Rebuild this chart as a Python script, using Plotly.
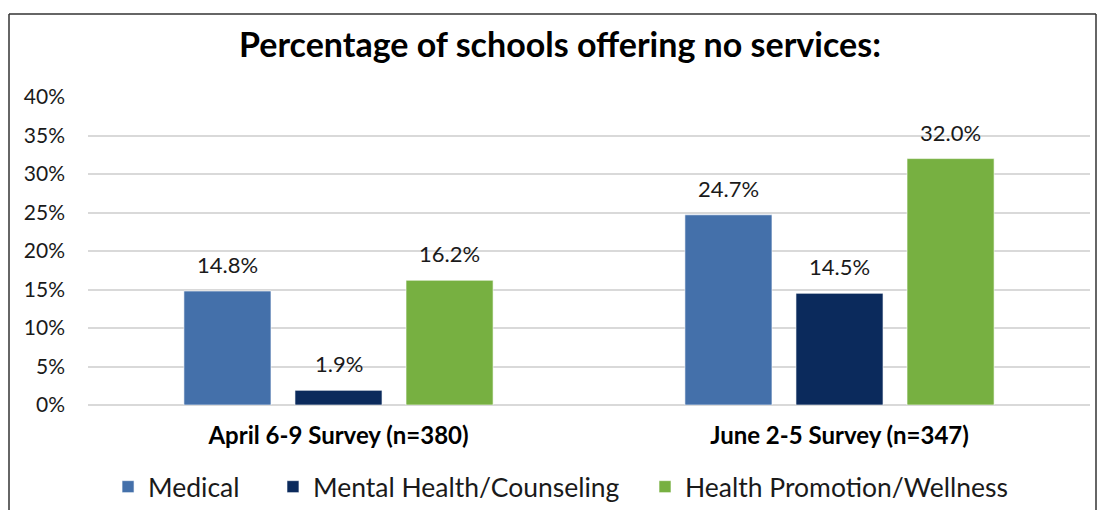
import plotly.graph_objects as go

# Survey rounds and the share of schools offering no services of each kind
surveys = ["April 6-9 Survey (n=380)", "June 2-5 Survey (n=347)"]
service_types = ["Medical", "Mental Health/Counseling", "Health Promotion/Wellness"]
medical = [14.8, 24.7]
mental_health = [1.9, 14.5]
wellness = [16.2, 32.0]
y_ticks = [0, 5, 10, 15, 20, 25, 30, 35, 40]
y_tick_labels = [f"{t}%" for t in y_ticks]

series = [medical, mental_health, wellness]
colors = ["#4470AA", "#0B2A5C", "#77B041"]
legend_ids = ["legend", "legend2", "legend3"]
legend_x = [0.020, 0.1846, 0.5559]

FONT = "Lato"

fig = go.Figure()
for name, vals, col, lg in zip(service_types, series, colors, legend_ids):
    fig.add_trace(go.Bar(
        x=surveys, y=vals, name=name, legend=lg,
        marker=dict(color=col, line=dict(color="rgba(255,255,255,0.6)", width=1)),
    ))

# value labels above each bar
bar_step = 111
for i, vals in enumerate(series):
    for cat, v in zip(surveys, vals):
        fig.add_annotation(
            x=cat, y=v, text=f"{v:.1f}%", showarrow=False,
            xshift=(i - 1) * bar_step, yshift=11, yanchor="bottom",
            font=dict(family=FONT, size=22, color="#1a1a1a"),
        )

# outer frame (left, top and right edges)
frame = dict(type="line", xref="paper", yref="paper", xsizemode="pixel",
             ysizemode="pixel", xanchor=0, yanchor=1,
             line=dict(color="#333333", width=1.5))
fig.add_shape(**frame, x0=-79, x1=-79, y0=83, y1=-430)
fig.add_shape(**frame, x0=-79, x1=1008, y0=83, y1=83)
fig.add_shape(**frame, x0=1008, x1=1008, y0=83, y1=-430)

legend_style = dict(orientation="h", xanchor="left", y=-0.266, yanchor="middle",
                    font=dict(family=FONT, size=26.5, color="#1a1a1a"),
                    itemwidth=30, bgcolor="rgba(0,0,0,0)")

fig.update_layout(
    width=1098, height=510,
    margin=dict(l=88, r=8, t=97, b=105, autoexpand=False),
    paper_bgcolor="white", plot_bgcolor="white",
    font=dict(family=FONT, color="#1a1a1a"),
    title=dict(text="<b>Percentage of schools offering no services:</b>",
               x=0.51, xanchor="center", yref="container", y=0.912, yanchor="middle",
               font=dict(family=FONT, size=34, color="#000000")),
    barmode="group", bargap=0.335, bargroupgap=0.216,
    showlegend=True,
    legend=dict(**legend_style, x=legend_x[0]),
    legend2=dict(**legend_style, x=legend_x[1]),
    legend3=dict(**legend_style, x=legend_x[2]),
    xaxis=dict(showgrid=False, showline=False, ticks="", ticklabelstandoff=14,
               automargin=False,
               tickfont=dict(family=FONT, size=24, color="#000000"),
               tickvals=surveys, ticktext=[f"<b>{s}</b>" for s in surveys]),
    yaxis=dict(range=[0, 40], tickvals=y_ticks, ticktext=y_tick_labels,
               showgrid=True, gridcolor="#D9D9D9", gridwidth=1.5,
               zeroline=True, zerolinecolor="#D9D9D9", zerolinewidth=1.5,
               ticks="", ticklabelstandoff=22, automargin=False,
               tickfont=dict(family=FONT, size=21, color="#1a1a1a")),
)

fig.write_html("out.html")
